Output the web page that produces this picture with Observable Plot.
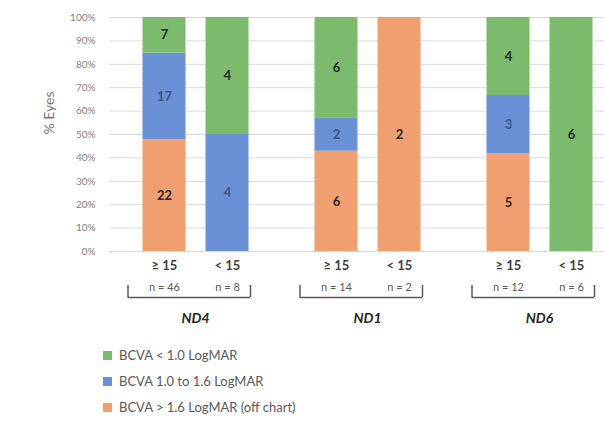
<!DOCTYPE html>
<html><head><meta charset="utf-8">
<script src="https://cdn.jsdelivr.net/npm/d3@7"></script>
<script src="https://cdn.jsdelivr.net/npm/@observablehq/plot@0.6"></script>
<style>
body{margin:0;background:#fff;font-family:Lato,sans-serif;}
#legend{padding-left:103px;padding-top:4px;}
.row{height:26px;display:flex;align-items:center;font-size:13px;color:#595959;}
.sw{width:9px;height:9px;margin-right:7px;}
</style></head><body><div id="chart"></div><div id="legend"></div>
<script>
// Groups (facets) and bars within each group
const groups = ["ND4", "ND1", "ND6"];
const sizes = ["≥ 15", "< 15"];
// Categories in stacking order (bottom → top)
const categories = ["BCVA > 1.6 LogMAR (off chart)", "BCVA 1.0 to 1.6 LogMAR", "BCVA < 1.0 LogMAR"];
const colors = ["#F0A070", "#6A90D5", "#7CBB6D"];
const legendOrder = ["BCVA < 1.0 LogMAR", "BCVA 1.0 to 1.6 LogMAR", "BCVA > 1.6 LogMAR (off chart)"];
// Counts per bar: [orange, blue, green]
const countsND4 = [[22, 17, 7], [0, 4, 4]];
const countsND1 = [[6, 2, 6], [2, 0, 0]];
const countsND6 = [[5, 3, 4], [0, 0, 6]];
const nLabels = [["n = 46", "n = 8"], ["n = 14", "n = 2"], ["n = 12", "n = 6"]];
const yTicks = [0, 0.1, 0.2, 0.3, 0.4, 0.5, 0.6, 0.7, 0.8, 0.9, 1];

const allCounts = [countsND4, countsND1, countsND6];
const rows = [];
groups.forEach((g, gi) => sizes.forEach((s, si) => categories.forEach((c, ci) => {
  rows.push({group: g, size: s, cat: c, count: allCounts[gi][si][ci]});
})));
const barInfo = [];
groups.forEach((g, gi) => sizes.forEach((s, si) => barInfo.push({group: g, size: s, n: nLabels[gi][si]})));

const plotH = 234; // pixel height of plot frame
const bracketBottom = -46 / plotH, bracketTop = -34 / plotH;

const blueCat = categories[1];

const plot = Plot.plot({
  width: 604,
  height: 338,
  marginTop: 17,
  marginBottom: 87,
  marginLeft: 108.5,
  marginRight: -20.5,
  style: {fontFamily: "Lato, sans-serif", background: "#fff"},
  fx: {domain: groups, padding: 0, axis: null},
  x: {domain: sizes, paddingInner: 0.32, paddingOuter: 0.52, axis: null},
  y: {domain: [0, 1], axis: null},
  color: {domain: categories, range: colors},
  marks: [
    Plot.gridY(yTicks, {stroke: "#d9d9d9", strokeOpacity: 1}),
    Plot.axisY(yTicks, {tickFormat: d3.format(".0%"), tickSize: 0, tickPadding: 14, fontSize: 10, fill: "#7f7f7f", label: null}),
    Plot.text(["% Eyes"], {fx: () => groups[0], text: d => d, frameAnchor: "left", dx: -59.5, rotate: -90, fontSize: 14, fill: "#767676"}),
    Plot.barY(rows, Plot.stackY({offset: "normalize"}, {fx: "group", x: "size", y: "count", fill: "cat"})),
    Plot.text(rows, Plot.stackY({offset: "normalize"}, {fx: "group", x: "size", y: "count", z: "cat", text: d => (d.count > 0 && d.cat !== blueCat) ? d.count : "", fontSize: 13, fontWeight: "bold", fill: "#262626"})),
    Plot.text(rows, Plot.stackY({offset: "normalize"}, {fx: "group", x: "size", y: "count", z: "cat", text: d => (d.count > 0 && d.cat === blueCat) ? d.count : "", fontSize: 13, fontWeight: "bold", fill: "#3d5585"})),
    Plot.text(barInfo, {fx: "group", x: "size", text: "size", frameAnchor: "bottom", dy: 18, fontSize: 13, fontWeight: "bold", fill: "#404040"}),
    Plot.text(barInfo, {fx: "group", x: "size", text: "n", frameAnchor: "bottom", dy: 39, fontSize: 11, fill: "#595959"}),
    Plot.text(groups, {fx: d => d, text: d => d, frameAnchor: "bottom", dy: 71, fontSize: 14, fontWeight: "bold", fontStyle: "italic", fill: "#262626"}),
    Plot.tickY(barInfo.filter(d => d.size === sizes[0]), {fx: "group", x: "size", y: bracketBottom, insetLeft: -15, insetRight: -64.7, stroke: "#595959", strokeWidth: 1.5}),
    Plot.ruleX(barInfo.filter(d => d.size === sizes[0]), {fx: "group", x: "size", y1: bracketTop, y2: bracketBottom, dx: -36.5, stroke: "#595959", strokeWidth: 1.5}),
    Plot.ruleX(barInfo.filter(d => d.size === sizes[1]), {fx: "group", x: "size", y1: bracketTop, y2: bracketBottom, dx: 23, stroke: "#595959", strokeWidth: 1.5})
  ]
});
document.getElementById("chart").appendChild(plot);

const legend = document.getElementById("legend");
legendOrder.forEach(c => {
  const row = document.createElement("div");
  row.className = "row";
  const sw = document.createElement("span");
  sw.className = "sw";
  sw.style.background = colors[categories.indexOf(c)];
  row.appendChild(sw);
  row.appendChild(document.createTextNode(c));
  legend.appendChild(row);
});
</script></body></html>
